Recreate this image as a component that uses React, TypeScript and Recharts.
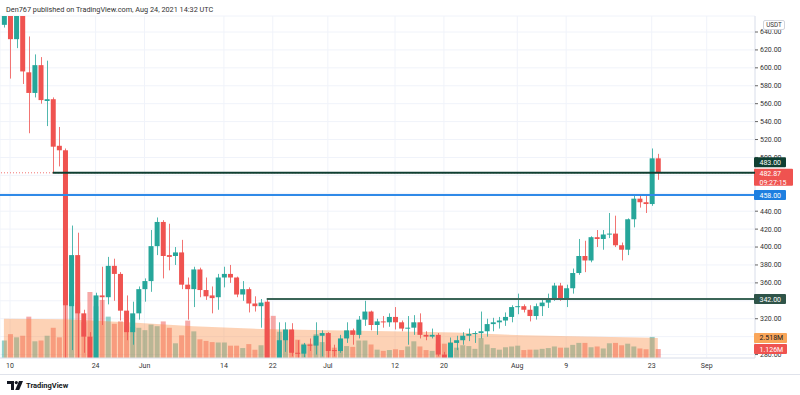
import React from 'react'
import { ComposedChart, Bar, Area, XAxis, YAxis, CartesianGrid, ReferenceLine, Cell } from 'recharts'

const FONT = 'Roboto, "Liberation Sans", sans-serif'
const UP = '#26a69a'
const DOWN = '#ef5350'
const VOL_UP = 'rgba(38,166,154,0.5)'
const VOL_DOWN = 'rgba(239,83,80,0.5)'

// day 0 = 10 May 2021, first candle is 9 May, last is 24 Aug
const firstDay = -1

const opens = [
  648, 668, 632, 666, 595, 572, 603, 563, 565, 513, 508, 334, 391, 326, 300, 268, 346, 344, 379, 370, 329, 305, 326,
  353, 362, 401, 428, 391, 390, 394, 358, 353, 375, 352, 346, 344, 366, 370, 366, 347, 353, 337, 334, 339, 272, 266, 296, 308, 282, 281, 291, 290, 301,
  304, 285, 284, 298, 307, 302, 319, 328, 313, 317, 316, 322, 316, 309, 310, 316, 302, 300, 302, 280, 270, 293, 296, 301, 303, 304, 306, 314, 316, 318, 322,
  333, 334, 330, 323, 334, 338, 342, 357, 343, 354, 371, 390, 385, 411, 409, 414, 415, 402, 397, 431, 454, 450, 448, 499,
]
const highs = [
  680, 672, 675, 670, 635, 615, 612, 608, 567, 534, 510, 424, 416, 330, 305, 349, 378, 389, 387, 372, 346, 339, 356,
  365, 419, 433, 430, 426, 400, 408, 366, 378, 377, 366, 356, 370, 378, 380, 367, 362, 355, 345, 342, 341, 274, 316, 316, 315, 296, 293, 298, 316, 307,
  305, 291, 302, 316, 309, 323, 340, 329, 320, 323, 326, 333, 318, 323, 324, 326, 306, 309, 304, 283, 299, 301, 305, 309, 306, 328, 320, 321, 322, 327, 335,
  348, 336, 335, 337, 342, 348, 360, 360, 358, 376, 409, 407, 412, 419, 419, 438, 435, 405, 432, 458, 459, 458, 510, 504,
]
const lows = [
  645, 588, 622, 582, 527, 567, 560, 535, 483, 490, 250, 285, 265, 282, 240, 262, 313, 336, 340, 318, 296, 291, 319,
  339, 350, 391, 365, 374, 380, 353, 319, 333, 344, 341, 326, 330, 355, 360, 344, 340, 327, 328, 310, 255, 245, 262, 283, 278, 276, 277, 284, 280, 278,
  276, 278, 282, 293, 291, 298, 312, 307, 302, 310, 311, 308, 306, 291, 302, 298, 296, 298, 278, 264, 265, 285, 291, 295, 293, 298, 300, 306, 309, 312, 316,
  325, 327, 317, 319, 323, 332, 340, 340, 333, 348, 369, 372, 383, 400, 397, 410, 400, 385, 391, 422, 444, 438, 446, 475,
]
const closes = [
  668, 632, 666, 596, 572, 603, 564, 565, 512, 508, 335, 391, 326, 300, 268, 346, 344, 379, 370, 329, 305, 326, 353,
  362, 401, 428, 390, 389, 394, 358, 353, 375, 352, 345, 343, 366, 370, 366, 347, 353, 337, 334, 338, 272, 266, 296, 308, 282, 281, 291, 290, 301, 304,
  284, 284, 298, 307, 302, 319, 328, 313, 317, 316, 322, 316, 309, 310, 316, 302, 300, 302, 280, 270, 293, 296, 301, 303, 304, 306, 314, 316, 318, 322, 333,
  334, 330, 323, 334, 338, 342, 357, 343, 354, 371, 390, 385, 411, 409, 414, 415, 402, 397, 431, 454, 450, 448, 499, 482.87,
]
// volume, millions
const volumes = [
  2.2, 3.0, 2.6, 2.8, 5.2, 2.1, 2.2, 2.8, 3.8, 2.6, 10.8, 8.0, 7.0, 4.5, 8.3, 6.5, 7.3, 5.2, 4.3, 4.6, 4.0, 3.9, 3.8,
  3.5, 4.2, 4.0, 4.6, 3.8, 1.85, 2.85, 4.7, 3.35, 2.35, 2.15, 2.0, 1.95, 1.95, 1.55, 1.55, 1.25, 1.75, 1.05, 1.6, 5.0, 5.3, 3.3, 3.5, 3.3, 2.3, 1.8, 1.8, 3.0, 2.0,
  1.7, 1.3, 1.6, 1.5, 1.4, 2.2, 2.2, 1.7, 1.05, 0.9, 1.0, 1.1, 1.0, 1.45, 2.1, 1.45, 1.0, 0.9, 1.8, 1.8, 2.0, 1.3, 1.6, 1.5, 1.15, 2.5, 1.7, 1.25, 1.05, 1.35, 1.45,
  1.55, 1.0, 1.05, 1.05, 1.15, 1.25, 1.45, 1.3, 1.3, 1.65, 1.9, 1.9, 1.35, 1.45, 1.2, 1.85, 1.9, 1.6, 1.8, 1.45, 1.2, 1.1, 2.65, 1.126,
]
// volume moving average at a few days
const maDays = [-1, 9, 20, 30, 41, 52, 62, 73, 84, 94, 105, 106]
const maValues = [4.95, 4.87, 4.45, 4.0, 3.65, 3.5, 3.35, 3.2, 2.85, 2.7, 2.55, 2.518]

const tickDays = [0, 14, 22, 35, 43, 52, 63, 71, 83, 91, 105, 114]
const tickLabels = ['10', '24', 'Jun', '14', '22', 'Jul', '12', '20', 'Aug', '9', '23', 'Sep']
const priceTicks = [280, 300, 320, 340, 360, 380, 400, 420, 440, 460, 480, 500, 520, 540, 560, 580, 600, 620, 640]
// labels that sit under the price badges on the scale
const coveredTicks = [300, 340, 460, 480]

const support = 342
const breakout = 458
const resistance = 483
const supportFrom = 42 // 21 Jun
const resistanceFrom = 7 // 17 May

const dayDomain = [-1.64, 121.9]
const priceDomain = [276.16, 657.86]

const data = opens.map((o, k) => {
  const day = firstDay + k
  const m = maDays.indexOf(day)
  return {
    day,
    open: o,
    high: highs[k],
    low: lows[k],
    close: closes[k],
    range: [lows[k], highs[k]],
    vol: volumes[k],
    ma: m >= 0 ? maValues[m] : null,
  }
})
const last = data[data.length - 1]

const Candle = (props: any) => {
  const { x, y, width, height, payload } = props
  if (!payload) return null
  const { open, high, low, close } = payload
  const top = Math.min(y, y + height)
  const h = Math.abs(height)
  const k = h / (high - low)
  const py = (p: number) => top + (high - p) * k
  const color = close >= open ? UP : DOWN
  const cx = Math.round(x + width / 2) + 0.5
  const bTop = py(Math.max(open, close))
  const bBot = py(Math.min(open, close))
  return (
    <g>
      <line x1={cx} x2={cx} y1={top} y2={top + h} stroke={color} strokeWidth={1} strokeOpacity={0.8} />
      <rect x={x} y={bTop} width={width} height={Math.max(1, bBot - bTop)} fill={color} />
    </g>
  )
}

const PriceTick = (props: any) => {
  const { x, y, payload } = props
  if (coveredTicks.includes(payload.value)) return <g />
  return (
    <text x={x} y={y} dy="0.35em" fontSize={7} fill="#333" fontFamily={FONT} textAnchor="start">
      {payload.value.toFixed(2)}
    </text>
  )
}

const badge = (lines: string[], bg: string, fg: string, w: number, top: number, h: number) => (props: any) => {
  const vb = props.viewBox || props
  const x0 = vb.x + vb.width - 1
  const y0 = vb.y + top
  return (
    <g>
      <rect x={x0} y={y0} width={w} height={h} rx={1} fill={bg} />
      {lines.map((t, k) => (
        <text key={k} x={x0 + 5.5} y={y0 + 7.5 + k * 8.4} fontSize={7} fill={fg} fontFamily={FONT}>
          {t}
        </text>
      ))}
    </g>
  )
}

export default function App() {
  return (
    <div style={{ position: 'fixed', left: 0, top: 0, width: 800, height: 395, background: '#fff', overflow: 'hidden', fontFamily: FONT }}>
      <div style={{ position: 'absolute', left: 0, top: 0 }}>
        <ComposedChart width={800} height={395} data={data} margin={{ top: 16, right: 0, bottom: 0, left: 0 }}>
          <CartesianGrid xAxisId="main" yAxisId="price" stroke="#f0f3fa" />
          <XAxis
            xAxisId="main"
            dataKey="day"
            type="number"
            domain={dayDomain}
            allowDataOverflow
            ticks={tickDays}
            interval={0}
            tickFormatter={(v: number) => tickLabels[tickDays.indexOf(v)]}
            height={37}
            tickLine={false}
            tickSize={5}
            tickMargin={0}
            axisLine={{ stroke: '#e0e3eb' }}
            tick={{ fontSize: 7, fill: '#333', fontFamily: FONT }}
          />
          <XAxis xAxisId="volx" dataKey="day" type="number" domain={dayDomain} allowDataOverflow hide />
          <YAxis
            yAxisId="price"
            orientation="right"
            type="number"
            domain={priceDomain}
            allowDataOverflow
            ticks={priceTicks}
            interval={0}
            width={45}
            tickSize={3}
            tickMargin={2}
            axisLine={{ stroke: '#e0e3eb' }}
            tickLine={{ stroke: '#666' }}
            tick={PriceTick}
          />
          <YAxis yAxisId="vol" type="number" domain={[0, 43]} allowDataOverflow hide />

          <Bar xAxisId="volx" yAxisId="vol" dataKey="vol" barSize={5} isAnimationActive={false} zIndex={200}>
            {data.map((d) => (
              <Cell key={d.day} fill={d.close >= d.open ? VOL_UP : VOL_DOWN} />
            ))}
          </Bar>
          <Area
            xAxisId="volx"
            yAxisId="vol"
            dataKey="ma"
            type="linear"
            connectNulls
            stroke="none"
            fill="#f98a3c"
            fillOpacity={0.38}
            dot={false}
            activeDot={false}
            isAnimationActive={false}
            zIndex={250}
          />
          <Bar xAxisId="main" yAxisId="price" dataKey="range" barSize={5} shape={Candle} isAnimationActive={false} zIndex={400} />

          <ReferenceLine
            xAxisId="main"
            yAxisId="price"
            y={last.close}
            stroke={DOWN}
            strokeDasharray="1 2"
            strokeOpacity={0.8}
            zIndex={3000}
            label={{ zIndex: 3000, content: badge([last.close.toFixed(2), '09:27:15'], DOWN, '#fff', 39, -4, 17) }}
          />
          <ReferenceLine
            xAxisId="main"
            yAxisId="price"
            segment={[{ x: resistanceFrom, y: resistance }, { x: dayDomain[1], y: resistance }]}
            stroke="#0f3f32"
            strokeWidth={2}
            zIndex={3000}
            label={{ zIndex: 3000, content: badge([resistance.toFixed(2)], '#0f3f32', '#fff', 32, -15.3, 10) }}
          />
          <ReferenceLine
            xAxisId="main"
            yAxisId="price"
            y={breakout}
            stroke="#2f8ae8"
            strokeWidth={2}
            zIndex={3000}
            label={{ zIndex: 3000, content: badge([breakout.toFixed(2)], '#1e7fe0', '#fff', 32, -5, 10) }}
          />
          <ReferenceLine
            xAxisId="main"
            yAxisId="price"
            segment={[{ x: supportFrom, y: support }, { x: dayDomain[1], y: support }]}
            stroke="#3b6557"
            strokeWidth={2}
            zIndex={3000}
            label={{ zIndex: 3000, content: badge([support.toFixed(2)], '#2f5449', '#fff', 32, -5, 10) }}
          />
          <ReferenceLine
            xAxisId="volx"
            yAxisId="vol"
            y={maValues[maValues.length - 1]}
            stroke="none"
            zIndex={3000}
            label={{ zIndex: 3000, content: badge([maValues[maValues.length - 1].toFixed(3) + 'M'], '#f9a65a', '#131722', 33, -5, 10) }}
          />
          <ReferenceLine
            xAxisId="volx"
            yAxisId="vol"
            y={last.vol}
            stroke="none"
            zIndex={3000}
            label={{ zIndex: 3000, content: badge([last.vol.toFixed(3) + 'M'], DOWN, '#fff', 33, -5, 10) }}
          />
        </ComposedChart>
      </div>

      <div style={{ position: 'absolute', left: 6, top: 6, fontSize: 7.3, lineHeight: 1, color: '#333', whiteSpace: 'nowrap' }}>
        Den767 published on TradingView.com, Aug 24, 2021 14:32 UTC
      </div>
      <div
        style={{
          position: 'absolute',
          left: 763,
          top: 20,
          width: 20,
          height: 8,
          border: '1px solid #d1d4dc',
          borderRadius: 2,
          background: '#fff',
          fontSize: 6.3,
          lineHeight: '8px',
          textAlign: 'center',
          color: '#333',
        }}
      >
        USDT
      </div>
      <div style={{ position: 'absolute', left: 0, top: 374, width: 800, height: 1, background: '#e0e3eb' }} />
      <svg style={{ position: 'absolute', left: 7, top: 381 }} width={16} height={9} viewBox="0 0 16 9">
        <path d="M0 0 H7 V9 H4 V3 H0 Z" fill="#131722" />
        <circle cx={9.3} cy={1.6} r={1.6} fill="#131722" />
        <path d="M12 0 H16 L12.2 9 H8.2 Z" fill="#131722" />
      </svg>
      <div style={{ position: 'absolute', left: 26, top: 382, fontSize: 7.5, lineHeight: 1, fontWeight: 700, color: '#131722' }}>
        TradingView
      </div>
    </div>
  )
}
